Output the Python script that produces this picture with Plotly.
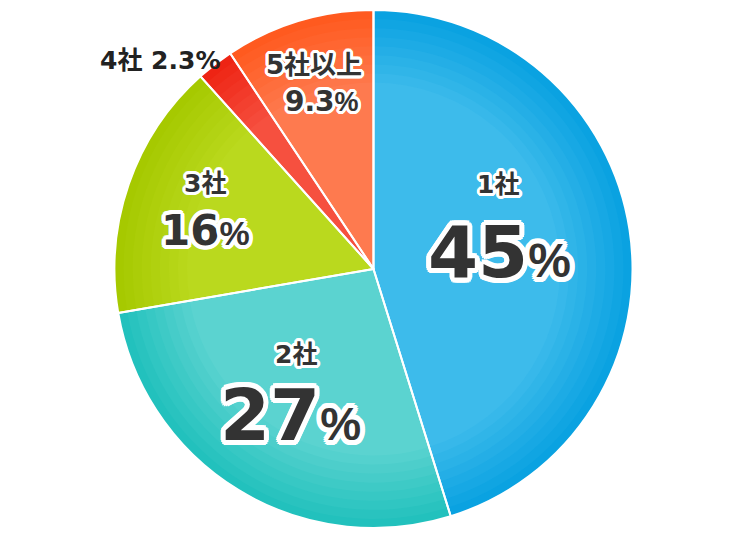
import math
import plotly.graph_objects as go

# data
labels = ['1社', '2社', '3社', '4社', '5社以上']
values = [45, 27, 16, 2.3, 9.3]

# slice colours: rim and centre of the radial shading
edge_colors = ['#0aa2e1', '#22c1bd', '#a6c900', '#ee2414', '#ff5a1f']
mid_colors = ['#3dbbeb', '#5bd3d0', '#bad91e', '#f6503f', '#fe7a4f']

W, H = 750, 541
cx, cy, r = 373.5, 269, 259


def hex2rgb(h):
    h = h.lstrip('#')
    return [int(h[i:i + 2], 16) for i in (0, 2, 4)]


def mix(a, b, t):
    a, b = hex2rgb(a), hex2rgb(b)
    return 'rgb(%d,%d,%d)' % tuple(round(a[i] + (b[i] - a[i]) * t) for i in range(3))


def dom(s):
    rr = r * s
    return dict(x=[(cx - rr) / W, (cx + rr) / W], y=[1 - (cy + rr) / H, 1 - (cy - rr) / H])


fig = go.Figure()

# stacked pies, shrinking toward the centre, to fake the radial gradient
steps = 9
for k in range(steps):
    s = 1 - 0.035 * k
    t = k / (steps - 1)
    fig.add_trace(go.Pie(
        labels=labels, values=values, sort=False,
        direction='clockwise', rotation=0,
        textinfo='none', hoverinfo='skip',
        marker=dict(colors=[mix(e, m, t) for e, m in zip(edge_colors, mid_colors)], line=dict(width=0)),
        domain=dom(s), showlegend=False,
    ))

# white separators on top
fig.add_trace(go.Pie(
    labels=labels, values=values, sort=False,
    direction='clockwise', rotation=0,
    textinfo='none', hoverinfo='label+percent',
    marker=dict(colors=['rgba(0,0,0,0)'] * len(labels), line=dict(color='white', width=2)),
    domain=dom(1), showlegend=False,
))


def outline(px):
    parts = []
    for i in range(16):
        a = 2 * math.pi * i / 16
        parts.append('%.1fpx %.1fpx 0 white' % (px * math.cos(a), px * math.sin(a)))
    return ', '.join(parts)


FONT = 'DejaVu Sans, Noto Sans CJK JP, sans-serif'


def pct(v, big, small):
    return ('<span style="font-size:%dpx">%g</span>'
            '<span style="font-size:%dpx;font-family:Liberation Sans">%%</span>') % (big, v, small)


# (text, x px, y px, size, outline px)
notes = [
    (labels[0], 498, 184, 25, 3),
    (pct(values[0], 72, 48), 499, 252, 72, 5),
    (labels[1], 296, 354, 25, 3),
    (pct(values[1], 72, 46), 290, 415, 72, 5),
    (labels[2], 205, 183, 25, 3),
    (pct(values[2], 42, 34), 205, 230, 42, 4),
    (labels[4], 314, 65, 26, 3),
    (pct(values[4], 28, 27), 322, 102, 28, 3),
]

anns = []
for text, x, y, size, ol in notes:
    anns.append(dict(
        x=x / W, y=1 - y / H, xref='paper', yref='paper',
        text='<b>%s</b>' % text, showarrow=False,
        xanchor='center', yanchor='middle',
        font=dict(family=FONT, size=size, color='#333333', shadow=outline(ol)),
    ))

# outside label for the small slice
anns.append(dict(
    x=160 / W, y=1 - 61 / H, xref='paper', yref='paper',
    text='<b>%s %g%%</b>' % (labels[3], values[3]), showarrow=False,
    xanchor='center', yanchor='middle',
    font=dict(family=FONT, size=25, color='#222222'),
))

fig.update_layout(
    width=W, height=H,
    margin=dict(l=0, r=0, t=0, b=0),
    paper_bgcolor='white',
    plot_bgcolor='white',
    annotations=anns,
)

fig.write_html('out.html', config={'displayModeBar': False},
               post_script="document.body.style.margin='0';")
